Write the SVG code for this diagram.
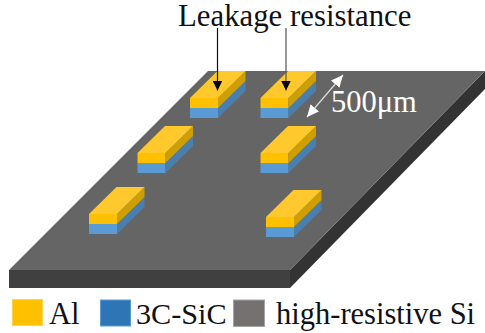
<svg xmlns="http://www.w3.org/2000/svg" width="485" height="333" viewBox="0 0 485 333">
<style>
text{font-family:"Liberation Serif","Times New Roman",serif;font-size:30.5px;fill:#111}
.top{fill:#ffc82c}.front-al{fill:#ffc000}.side-al{fill:#cf9f00}
.front-sic{fill:#5b9bd5}.side-sic{fill:#4a7eac}
.arrow{stroke:#111;stroke-width:1.2;fill:none}
</style>
<defs>
<marker id="ah" markerUnits="userSpaceOnUse" markerWidth="11" markerHeight="10" refX="10" refY="5" orient="auto"><path d="M0 0L10 5L0 10Z" fill="#000"/></marker>
<marker id="wh" markerUnits="userSpaceOnUse" markerWidth="13" markerHeight="12" refX="12" refY="5.5" orient="auto-start-reverse"><path d="M0 0L12 5.5L0 11Z" fill="#fff"/></marker>
<g id="bar">
<path class="front-sic" d="M0 10H28V20H0Z"/>
<path class="side-sic" d="M28 10L55.500 -17V-7L28 20Z"/>
<path class="front-al" d="M0 0H28V10H0Z"/>
<path class="side-al" d="M28 0L55.500 -27V-17L28 10Z"/>
<path class="top" d="M0 0L27.500 -27H55.500L28 0Z"/>
</g>
</defs>
<g id="substrate">
<path fill="#404040" d="M9 270H290V288H9Z"/>
<path fill="#333" d="M290 270L485 71V89L290 288Z"/>
<path fill="#656565" d="M9 270L208 71H485L290 270Z"/>
</g>
<use id="pad1" href="#bar" x="190" y="98"/>
<use id="pad2" href="#bar" x="260.500" y="98"/>
<use id="pad3" href="#bar" x="137.500" y="153"/>
<use id="pad4" href="#bar" x="260.500" y="153"/>
<use id="pad5" href="#bar" x="89" y="214"/>
<use id="pad6" href="#bar" x="266" y="217"/>
<g id="connectors">
<path class="arrow" d="M217.500 28V90.500" marker-end="url(#ah)"/>
<path class="arrow" d="M286 28V90.500" marker-end="url(#ah)" style="stroke:#555"/>
<path d="M343 75L307 117" stroke="#ddd" stroke-width="1.200" fill="none" marker-start="url(#wh)" marker-end="url(#wh)"/>
</g>
<g id="labels">
<text x="178" y="26" style="font-size:30.8px">Leakage resistance</text>
<text x="331" y="112" style="fill:#fff">500μm</text>
</g>
<g id="legend">
<rect x="12.500" y="299.500" width="30" height="26" fill="#ffc000" stroke="#ffd34d"/>
<text x="49" y="324">Al</text>
<rect x="100.500" y="300" width="30" height="26" fill="#2e75b6" stroke="#5b9bd5"/>
<text x="136" y="324" style="font-size:30.2px">3C-SiC</text>
<rect x="233.500" y="300" width="31" height="26.500" fill="#767171" stroke="#a5a5a5"/>
<text x="276" y="324">high-resistive Si</text>
</g>
</svg>
